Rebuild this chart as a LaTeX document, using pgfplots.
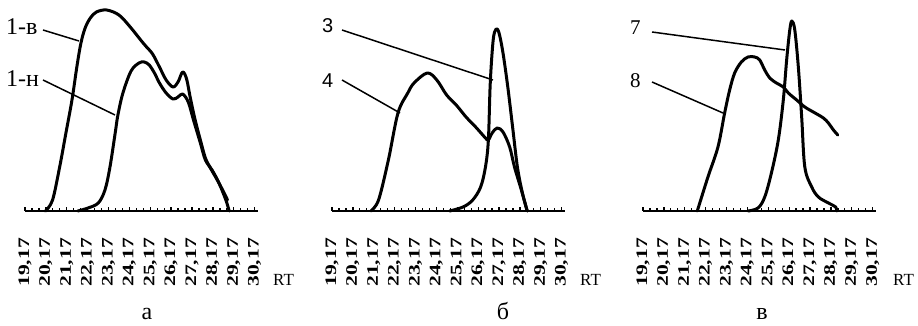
\documentclass[border=0pt]{standalone}
\usepackage{pgfplots}
\pgfplotsset{compat=1.18}
\usepackage{fontspec}
\setmainfont{Liberation Serif}
\setsansfont{Liberation Sans}
\newcommand\tl[1]{\scalebox{1.35}[1]{#1}}
\pgfplotsset{
  crv/.style={black, line width=3pt, smooth, tension=0.55, no markers, line join=round, line cap=round},
  panel/.style={
    scale only axis, width=233pt, height=205pt,
    xmin=19.17, xmax=30.33, ymin=0, ymax=205,
    axis x line=bottom, axis y line=none,
    x axis line style={-, line width=2pt},
    xtick={19.17,20.17,21.17,22.17,23.17,24.17,25.17,26.17,27.17,28.17,29.17,30.17},
    xticklabels={\tl{19,17},\tl{20,17},\tl{21,17},\tl{22,17},\tl{23,17},\tl{24,17},\tl{25,17},\tl{26,17},\tl{27,17},\tl{28,17},\tl{29,17},\tl{30,17}},
    ytick=\empty,
    minor x tick num=2,
    tick align=inside,
    major tick length=4pt, minor tick length=3pt,
    every tick/.style={black, line width=1.3pt},
    xticklabel style={rotate=90, anchor=east, inner sep=0pt, font=\bfseries\fontsize{16}{16}\selectfont},
    xticklabel shift=27pt,
    clip=false,
  }
}
\begin{document}
\begin{tikzpicture}[x=1pt,y=1pt]
\useasboundingbox (0,0) rectangle (918,326);
% ---------------- panel a
\begin{axis}[panel, at={(25pt,115pt)}, anchor=south west]
\addplot[crv] coordinates {
(20.15,0) (20.49,11) (20.83,44) (21.13,78) (21.42,111) (21.66,145) (21.85,168)
(22.05,183) (22.30,193) (22.59,199) (23.08,201) (23.67,196) (24.21,184)
(24.71,171) (24.95,165) (25.28,157) (25.61,144) (25.93,131) (26.26,124)
(26.50,129) (26.72,139) (26.91,132) (27.08,114) (27.32,91) (27.57,71)
(27.81,53) (28.05,43) (28.38,31) (28.71,18) (28.87,11)};
\addplot[crv] coordinates {
(21.70,0) (22.19,3) (22.68,8) (23.00,21) (23.24,44) (23.49,78) (23.62,96)
(23.86,118) (24.25,140) (24.63,148) (24.88,149) (25.12,146) (25.37,138)
(25.61,128) (25.93,118) (26.26,112) (26.50,114) (26.72,117) (26.99,109)
(27.24,91) (27.57,68) (27.81,51) (28.13,41) (28.46,28) (28.79,11) (28.95,0)};
\end{axis}
% ---------------- panel b
\begin{axis}[panel, at={(332pt,115pt)}, anchor=south west]
\addplot[crv] coordinates {
(21.03,0) (21.40,11) (21.87,51) (22.33,98) (22.80,118) (23.10,128) (23.73,138)
(24.19,131) (24.66,116) (25.12,106) (25.59,94) (26.05,84) (26.52,73)
(26.66,71) (26.84,78) (27.08,83) (27.36,79) (27.68,64) (27.91,44) (28.24,21) (28.52,0)};
\addplot[crv] coordinates {
(24.80,0) (25.45,4) (25.91,11) (26.29,24) (26.52,44) (26.66,71) (26.75,128)
(26.89,171) (27.03,182) (27.17,178) (27.36,158) (27.59,124) (27.82,84)
(28.05,44) (28.29,18) (28.52,0)};
\end{axis}
% ---------------- panel c
\begin{axis}[panel, at={(643pt,115pt)}, anchor=south west]
\addplot[crv] coordinates {
(21.77,0) (22.28,34) (22.76,64) (23.08,98) (23.32,121) (23.56,138) (23.88,149)
(24.20,154) (24.52,154) (24.76,151) (25.00,141) (25.24,133) (25.56,128)
(25.89,124) (26.13,118) (26.53,111) (26.92,104) (27.41,98) (27.81,93)
(28.05,88) (28.29,81) (28.50,76)};
\addplot[crv] coordinates {
(24.20,0) (24.68,3) (25.00,14) (25.32,38) (25.65,71) (25.89,111) (26.05,151)
(26.20,181) (26.30,190) (26.44,181) (26.61,144) (26.77,94) (26.92,44)
(27.25,24) (27.57,14) (28.05,8) (28.40,4) (28.45,0)};
\end{axis}
% ---------------- annotations
\begin{scope}[every node/.style={inner sep=0pt}]
\node[anchor=base west, font=\fontsize{24}{24}\selectfont] at (6,291) {1-в};
\node[anchor=base west, font=\fontsize{24}{24}\selectfont] at (6,239) {1-н};
\draw[line width=1.5pt] (43,296) -- (79,285);
\draw[line width=1.5pt] (43,246) -- (115,211);
\node[anchor=base west, font=\sffamily\fontsize{20}{20}\selectfont] at (322,293) {3};
\node[anchor=base west, font=\sffamily\fontsize{20}{20}\selectfont] at (322,238) {4};
\draw[line width=1.5pt] (342,296) -- (493,246);
\draw[line width=1.5pt] (342,246) -- (400,213);
\node[anchor=base west, font=\fontsize{21}{21}\selectfont] at (630,291) {7};
\node[anchor=base west, font=\fontsize{21}{21}\selectfont] at (630,238) {8};
\draw[line width=1.5pt] (652,294) -- (785,276);
\draw[line width=1.5pt] (652,244) -- (723,213);
\node[anchor=base west, font=\fontsize{17}{17}\selectfont] at (273,40) {RT};
\node[anchor=base west, font=\fontsize{17}{17}\selectfont] at (580,40) {RT};
\node[anchor=base west, font=\fontsize{17}{17}\selectfont] at (893,40) {RT};
\node[anchor=base, font=\fontsize{24}{24}\selectfont] at (147,6) {а};
\node[anchor=base, font=\fontsize{24}{24}\selectfont] at (503,6) {б};
\node[anchor=base, font=\fontsize{24}{24}\selectfont] at (762,6) {в};
\end{scope}
\end{tikzpicture}
\end{document}
